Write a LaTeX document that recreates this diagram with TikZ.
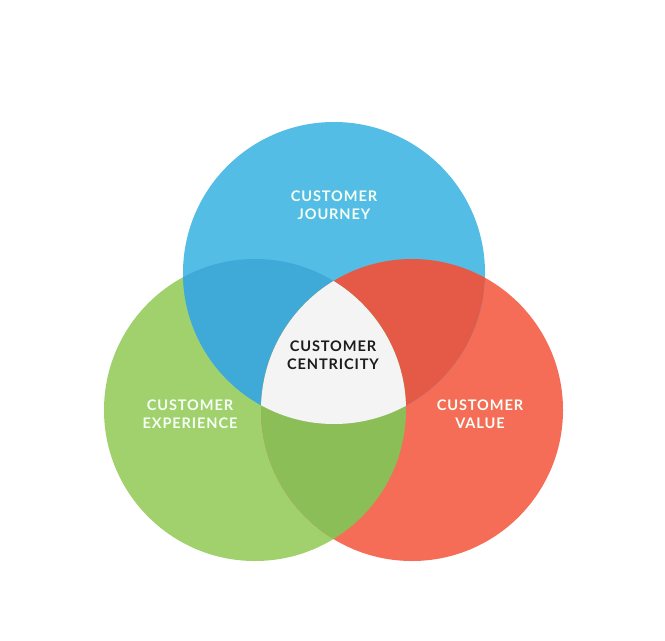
\documentclass[tikz,border=0pt]{standalone}
\usepackage{fontspec}
\newfontfamily\vennfont[LetterSpace=6]{Lato}
\definecolor{journeyblue}{HTML}{53BDE5}
\definecolor{experiencegreen}{HTML}{A1D16C}
\definecolor{valuered}{HTML}{F56C57}
\definecolor{jeblue}{HTML}{3FAAD7}
\definecolor{jvred}{HTML}{E55A46}
\definecolor{evgreen}{HTML}{8BBE57}
\definecolor{centregrey}{HTML}{F4F4F5}
\definecolor{labeldark}{HTML}{1C1C1C}
\begin{document}
\begin{tikzpicture}[x=.02cm, y=.02cm]

        \fill[white] (0,0) rectangle (665,640);
        \useasboundingbox (0,0) rectangle (665,640);

        \coordinate (j) at (334,367);
        \coordinate (e) at (255,230);
        \coordinate (v) at (412,230);

        % the three circles
        \fill[experiencegreen] (e) circle (151);
        \fill[valuered] (v) circle (151);
        \fill[journeyblue] (j) circle (151);

        % the overlaps
        \begin{scope}
          \clip (j) circle (151);
          \fill[jeblue] (e) circle (151);
          \fill[jvred] (v) circle (151);
        \end{scope}
        \begin{scope}
          \clip (e) circle (151);
          \fill[evgreen] (v) circle (151);
        \end{scope}
        \begin{scope}
          \clip (j) circle (151);
          \clip (e) circle (151);
          \fill[centregrey] (v) circle (151);
        \end{scope}

        \begin{scope}[every node/.style={align=center, font=\vennfont\bfseries\fontsize{8.3}{10.3}\selectfont}]
          \begin{scope}[every node/.append style={text=white!96!green}]
            \node (journey)    at (334,435) {CUSTOMER\\JOURNEY};
            \node (experience) at (190,226) {CUSTOMER\\EXPERIENCE};
            \node (value)      at (480,226) {CUSTOMER\\VALUE};
          \end{scope}
          \node[text=labeldark] (centricity) at (333,285) {CUSTOMER\\CENTRICITY};
        \end{scope}

      \end{tikzpicture}
\end{document}
